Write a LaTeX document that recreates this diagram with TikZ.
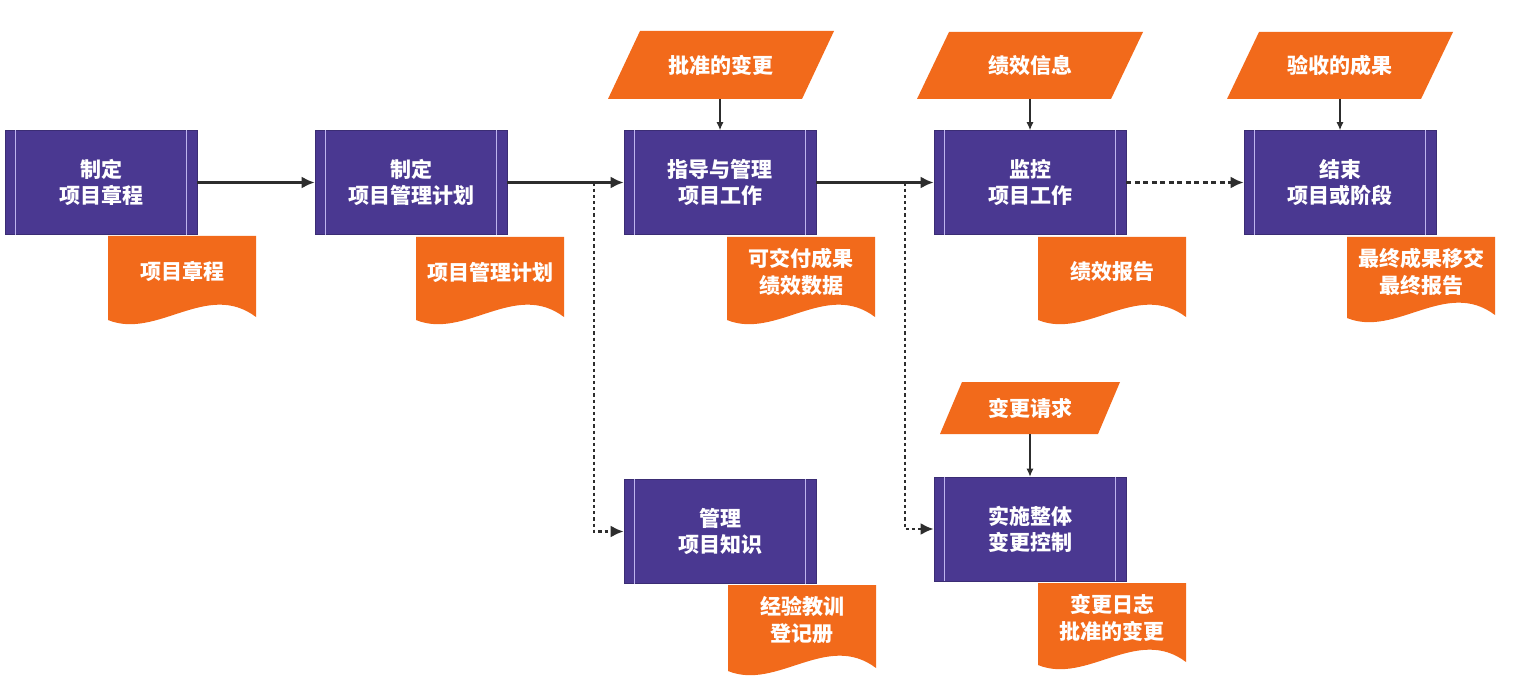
\documentclass[tikz,border=0pt]{standalone}
\usepackage{fontspec}
\setmainfont{Noto Sans CJK SC}
\usetikzlibrary{arrows.meta}
\definecolor{procpurple}{RGB}{74,56,145}
\definecolor{procline}{RGB}{190,180,238}
\definecolor{dataorange}{RGB}{242,106,27}
\definecolor{linegray}{RGB}{45,45,45}
\tikzset{
  procbox/.style={fill=procpurple, draw=procpurple!80!black, line width=0.6pt,
    minimum width=192pt, minimum height=104pt, inner sep=0pt, text=white,
    align=center, font=\bfseries\fontsize{21}{26}\selectfont},
  innerline/.style={draw=procline, line width=1pt},
  doctext/.style={text=white, align=center, inner sep=0pt,
    font=\bfseries\fontsize{21}{27}\selectfont},
  datatext/.style={text=white, align=center, inner sep=0pt,
    font=\bfseries\fontsize{21}{26}\selectfont},
  mainarrow/.style={draw=linegray, line width=2.6pt, -{Latex[length=13pt,width=12pt]}},
  dotarrow/.style={mainarrow, dash pattern=on 3.2pt off 3pt},
  dasharrow/.style={mainarrow, dash pattern=on 5pt off 3.5pt},
  smallarrow/.style={draw=linegray, line width=1.2pt, -{Latex[length=8pt,width=7pt]}},
}
\newcommand\procnode[4]{%
  \node[procbox] (#1) at (#2,#3) {#4};
  \draw[innerline] ([xshift=11pt]#1.north west) -- ([xshift=11pt]#1.south west);
  \draw[innerline] ([xshift=-11pt]#1.north east) -- ([xshift=-11pt]#1.south east);
}
\newcommand\docnode[5]{%
  \fill[dataorange] (#2,#3) -- ({#2+148},#3) -- ({#2+148},{#4-3})
    .. controls ({#2+99},{#4-40}) and ({#2+49},{#4+20}) .. (#2,#4) -- cycle;
  \node[doctext] (#1) at ({#2+74},{#3+35}) {#5};
}
\newcommand\datanode[7]{%
  \fill[dataorange] ({#2-#5/2-#6/2},{#3+#4}) -- ({#2+#5/2-#6/2},{#3+#4})
    -- ({#2+#5/2+#6/2},#3) -- ({#2-#5/2+#6/2},#3) -- cycle;
  \node[datatext, minimum height=#4pt, minimum width=#5pt] (#1) at (#2,{#3+#4/2}) {#7};
}
\begin{document}
\begin{tikzpicture}[x=1pt,y=-1pt]
\useasboundingbox[fill=white] (0,0) rectangle (1534,695);
% process boxes
\procnode{b1}{101}{182.5}{制定\\项目章程}
\procnode{b2}{411}{182.5}{制定\\项目管理计划}
\procnode{b3}{720}{182.5}{指导与管理\\项目工作}
\procnode{b4}{1030}{182.5}{监控\\项目工作}
\procnode{b5}{1340}{182.5}{结束\\项目或阶段}
\procnode{b6}{720}{531.5}{管理\\项目知识}
\procnode{b7}{1030}{529}{实施整体\\变更控制}
% documents
\docnode{d1}{108}{236}{320}{项目章程}
\docnode{d2}{416}{237}{320}{项目管理计划}
\docnode{d3}{727}{237}{320}{可交付成果\\绩效数据}
\docnode{d4}{1038}{237}{320}{绩效报告}
\docnode{d5}{1347}{237}{318}{最终成果移交\\最终报告}
\docnode{d6}{728}{585}{671}{经验教训\\登记册}
\docnode{d7}{1038}{583}{665}{变更日志\\批准的变更}
% data inputs
\datanode{p3}{721}{31}{68}{194}{32}{批准的变更}
\datanode{p4}{1030}{32}{67}{194}{32}{绩效信息}
\datanode{p5}{1340}{32}{67}{194}{32}{验收的成果}
\datanode{p7}{1030}{382}{52}{158}{22}{变更请求}
% connectors
\draw[mainarrow] (b1.east) -- (b2.west);
\draw[mainarrow] (b2.east) -- (b3.west);
\draw[mainarrow] (b3.east) -- (b4.west);
\draw[dasharrow] (b4.east) -- (b5.west);
\coordinate (j1) at (594,182.5);
\coordinate (j2) at (905,182.5);
\draw[dotarrow] (j1) |- (b6.west);
\draw[dotarrow] (j2) |- (b7.west);
\draw[smallarrow] (p3.south -| b3.north) -- (b3.north);
\draw[smallarrow] (p4.south -| b4.north) -- (b4.north);
\draw[smallarrow] (p5.south -| b5.north) -- (b5.north);
\draw[smallarrow] (p7.south -| b7.north) -- (b7.north);
\end{tikzpicture}
\end{document}
